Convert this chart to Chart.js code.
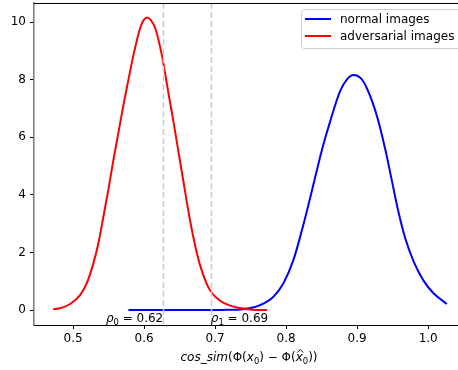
<!DOCTYPE html>
<html>
<head>
<meta charset="utf-8">
<script src="https://cdn.jsdelivr.net/npm/chart.js@4"></script>
<style>
  body { margin: 0; background: #fff; }
  #wrap { width: 458px; height: 370px; }
</style>
</head>
<body>
<div id="wrap"><canvas id="myChart" width="458" height="370"></canvas></div>
<script>
// values
const normalX = [0.578, 0.62, 0.67, 0.71, 0.735, 0.750, 0.7634, 0.7821, 0.7962, 0.8103, 0.822, 0.8314, 0.8408, 0.8503, 0.862, 0.876, 0.886, 0.895, 0.905, 0.9137, 0.9277, 0.9394, 0.9488, 0.9582, 0.9676, 0.9793, 0.9934, 1.0075, 1.0263]
const normalY = [0, 0, 0, 0.005, 0.02, 0.07, 0.17, 0.46, 0.93, 1.74, 2.75, 3.65, 4.60, 5.55, 6.55, 7.60, 8.02, 8.16, 8.05, 7.70, 6.75, 5.60, 4.50, 3.40, 2.50, 1.70, 1.02, 0.58, 0.21]

const advX = [0.472, 0.4817, 0.4958, 0.5099, 0.5193, 0.5286, 0.5356, 0.5427, 0.5497, 0.5568, 0.5638, 0.5708, 0.578, 0.585, 0.594, 0.599, 0.604, 0.609, 0.6155, 0.625, 0.6356, 0.6413, 0.6474, 0.6531, 0.6592, 0.6648, 0.6718, 0.6789, 0.6883, 0.6953, 0.707, 0.72, 0.735, 0.749, 0.773]
const advY = [0.03, 0.06, 0.21, 0.52, 0.93, 1.62, 2.31, 3.24, 4.17, 5.21, 6.15, 7.10, 8.0, 8.85, 9.75, 10.05, 10.16, 10.08, 9.80, 8.85, 7.35, 6.55, 5.65, 4.80, 3.90, 3.10, 2.25, 1.55, 0.90, 0.60, 0.32, 0.16, 0.07, 0.02, 0.0]

const seriesNames = ['normal images', 'adversarial images']
const thresholds = [0.627, 0.694]
const thresholdLabels = ['0.62', '0.69']
const xTicks = [0.5, 0.6, 0.7, 0.8, 0.9, 1.0]
const yTicks = [0, 2, 4, 6, 8, 10]

const FONT = '"DejaVu Sans", sans-serif'
const FS = 12

// draws a row of mathtext-like runs: {t, it, sub, hat}
function drawRuns(ctx, runs, x, y, align) {
  const font = r => (r.it ? 'italic ' : '') + (r.sub ? FS * 0.7 : FS) + 'px ' + FONT
  let w = 0
  runs.forEach(r => { ctx.font = font(r); r.w = ctx.measureText(r.t).width; w += r.w })
  let cx = align === 'right' ? x - w : align === 'center' ? x - w / 2 : x
  ctx.textAlign = 'left'
  ctx.textBaseline = 'alphabetic'
  ctx.fillStyle = '#000'
  runs.forEach(r => {
    ctx.font = font(r)
    ctx.fillText(r.t, cx, y + (r.sub ? 3 : 0))
    if (r.hat) {
      ctx.save()
      ctx.strokeStyle = '#000'
      ctx.lineWidth = 1
      const mx = cx + r.w / 2 + 1
      ctx.beginPath()
      ctx.moveTo(mx - 3, y - 8.5)
      ctx.lineTo(mx, y - 11.5)
      ctx.lineTo(mx + 3, y - 8.5)
      ctx.stroke()
      ctx.restore()
    }
    cx += r.w
  })
}

const extras = {
  id: 'extras',
  afterDatasetsDraw(chart) {
    const ctx = chart.ctx
    const xs = chart.scales.x, ys = chart.scales.y
    const a = chart.chartArea
    ctx.save()
    // dashed threshold lines
    ctx.strokeStyle = '#cccccc'
    ctx.lineWidth = 1.5
    ctx.setLineDash([6, 3])
    thresholds.forEach(t => {
      const px = Math.round(xs.getPixelForValue(t)) + 0.5
      ctx.beginPath()
      ctx.moveTo(px, a.top)
      ctx.lineTo(px, a.bottom)
      ctx.stroke()
    })
    ctx.setLineDash([])
    // threshold labels
    const by = ys.getPixelForValue(-0.5) - 2.5
    thresholds.forEach((t, i) => {
      const runs = [{ t: 'ρ', it: true }, { t: String(i), sub: true }, { t: ' = ' + thresholdLabels[i] }]
      drawRuns(ctx, runs, xs.getPixelForValue(t), by, i === 0 ? 'right' : 'left')
    })
    ctx.restore()
  },
  afterDraw(chart) {
    const ctx = chart.ctx
    const a = chart.chartArea
    ctx.save()
    // top spine
    ctx.strokeStyle = '#000'
    ctx.lineWidth = 1
    ctx.beginPath()
    ctx.moveTo(a.left, a.top + 0.5)
    ctx.lineTo(a.right, a.top + 0.5)
    ctx.stroke()

    // legend
    const lx = 301, ly = 9, lw = 170, lh = 39
    ctx.fillStyle = 'rgba(255,255,255,0.8)'
    ctx.strokeStyle = '#d0d0d0'
    ctx.lineWidth = 1
    ctx.beginPath()
    ctx.roundRect(lx + 0.5, ly + 0.5, lw, lh, 3)
    ctx.fill()
    ctx.stroke()
    const colors = ['#0000ff', '#ff0000']
    seriesNames.forEach((n, i) => {
      const yy = 19 + i * 17
      ctx.strokeStyle = colors[i]
      ctx.lineWidth = 2
      ctx.beginPath()
      ctx.moveTo(305, yy)
      ctx.lineTo(331, yy)
      ctx.stroke()
      ctx.fillStyle = '#000'
      ctx.font = FS + 'px ' + FONT
      ctx.textAlign = 'left'
      ctx.textBaseline = 'middle'
      ctx.fillText(n, 340, yy + 0.5)
    })

    // x axis label
    const runs = [
      { t: 'cos_sim', it: true }, { t: '(Φ(' }, { t: 'x', it: true }, { t: '0', sub: true },
      { t: ') − Φ(' }, { t: 'x', it: true, hat: true }, { t: '0', sub: true }, { t: '))' }
    ]
    drawRuns(ctx, runs, (a.left + a.right) / 2 + 3, 361, 'center')
    ctx.restore()
  }
}

const ctx = document.getElementById('myChart').getContext('2d')
const chart = new Chart(ctx, {
  type: 'line',
  data: {
    datasets: [{
      label: seriesNames[0],
      data: normalX.map((x, i) => ({ x: x, y: normalY[i] })),
      borderColor: '#0000ff',
      borderWidth: 2,
      pointRadius: 0,
      cubicInterpolationMode: 'monotone',
      order: 2
    }, {
      label: seriesNames[1],
      data: advX.map((x, i) => ({ x: x, y: advY[i] })),
      borderColor: '#ff0000',
      borderWidth: 2,
      pointRadius: 0,
      cubicInterpolationMode: 'monotone',
      order: 1
    }]
  },
  options: {
    responsive: false,
    animation: false,
    layout: { padding: { top: 3, right: 0, left: 0, bottom: 0 } },
    plugins: { legend: { display: false }, tooltip: { enabled: false } },
    scales: {
      x: {
        type: 'linear',
        min: 0.445,
        max: 1.042,
        afterFit: s => { s.height = 45; s.paddingLeft = 0; s.paddingRight = 0 },
        afterBuildTicks: s => { s.ticks = xTicks.map(v => ({ value: v })) },
        ticks: {
          color: '#000',
          font: { family: FONT, size: FS },
          padding: 3,
          maxRotation: 0,
          callback: v => v.toFixed(1)
        },
        grid: { drawOnChartArea: false, tickLength: 4, color: '#000' },
        border: { color: '#000', width: 1 }
      },
      y: {
        min: -0.52,
        max: 10.66,
        afterFit: s => { s.width = 34; s.paddingTop = 0; s.paddingBottom = 0 },
        afterBuildTicks: s => { s.ticks = yTicks.map(v => ({ value: v })) },
        ticks: {
          color: '#000',
          font: { family: FONT, size: FS },
          padding: 4
        },
        grid: { drawOnChartArea: false, tickLength: 4, color: '#000' },
        border: { color: '#777', width: 1.5 }
      }
    }
  },
  plugins: [extras]
})
</script>
</body>
</html>
